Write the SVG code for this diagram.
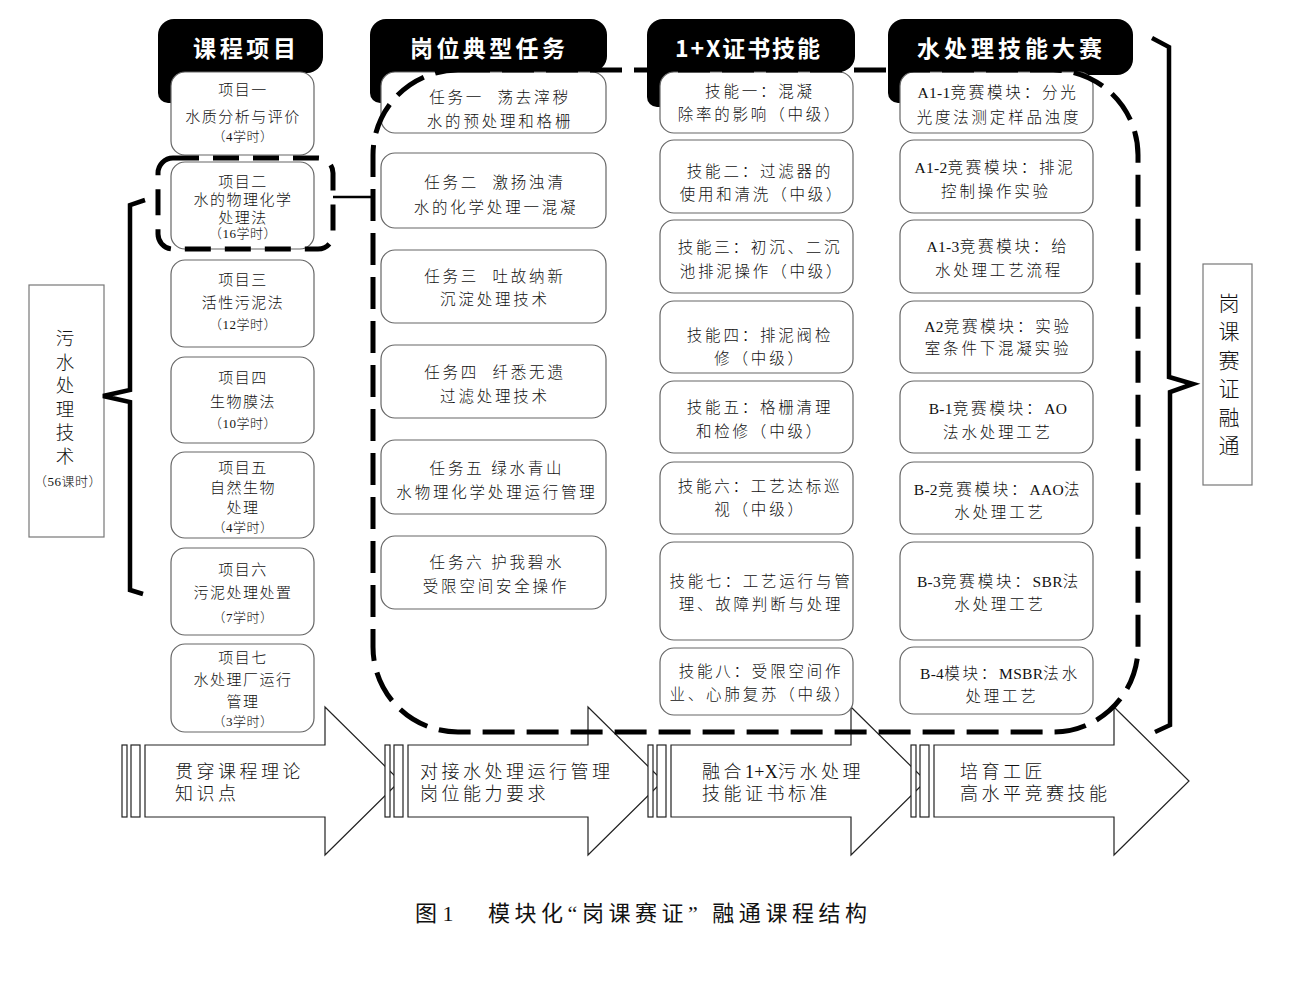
<svg xmlns="http://www.w3.org/2000/svg" width="1300" height="988" viewBox="0 0 1300 988">
<style>
.hdr{fill:#000}
.hdrt{fill:#fff;font-family:"Noto Sans CJK SC",sans-serif;font-size:23px;font-weight:bold}
.box{fill:#fff;stroke:#666;stroke-width:1.2}
.lbl{fill:#fff;stroke:#777;stroke-width:1.2}
.t{font-family:"Liberation Serif","Noto Sans CJK SC",serif;font-size:15px;font-weight:300;text-anchor:middle;fill:#111;letter-spacing:1.5px}
.m{font-size:15.5px;letter-spacing:2.8px}
.s{font-size:13px;letter-spacing:0.5px}
.l{letter-spacing:0.3px;font-weight:normal}
.v{font-family:"Noto Sans CJK SC",sans-serif;font-weight:300;text-anchor:middle;fill:#111}
.a{font-family:"Liberation Serif","Noto Sans CJK SC",serif;font-size:18px;font-weight:300;fill:#111;letter-spacing:3.5px}
.arr{fill:#fff;stroke:#222;stroke-width:1.2}
.dash{fill:none;stroke:#000;stroke-width:5;stroke-dasharray:32 12}
.brk{fill:none;stroke:#000;stroke-width:4.5;stroke-linejoin:miter}
</style>

<!-- bottom arrows -->
<g id="arrows">
  <g id="arrow1">
    <rect class="arr" x="122" y="745" width="5" height="72"/>
    <rect class="arr" x="131" y="745" width="9" height="72"/>
    <path class="arr" d="M145,745 L325,745 L325,707 L400,781 L325,855 L325,817 L145,817 Z"/>
    <text class="a" x="175" y="778">贯穿课程理论</text>
    <text class="a" x="175" y="800">知识点</text>
  </g>
  <g id="arrow2">
    <rect class="arr" x="385" y="745" width="5" height="72"/>
    <rect class="arr" x="394" y="745" width="9" height="72"/>
    <path class="arr" d="M408,745 L588,745 L588,707 L663,781 L588,855 L588,817 L408,817 Z"/>
    <text class="a" x="420" y="778">对接水处理运行管理</text>
    <text class="a" x="420" y="800">岗位能力要求</text>
  </g>
  <g id="arrow3">
    <rect class="arr" x="648" y="745" width="5" height="72"/>
    <rect class="arr" x="657" y="745" width="9" height="72"/>
    <path class="arr" d="M671,745 L851,745 L851,707 L926,781 L851,855 L851,817 L671,817 Z"/>
    <text class="a" x="702" y="778">融合<tspan class="l">1+X</tspan>污水处理</text>
    <text class="a" x="702" y="800">技能证书标准</text>
  </g>
  <g id="arrow4">
    <rect class="arr" x="911" y="745" width="5" height="72"/>
    <rect class="arr" x="920" y="745" width="9" height="72"/>
    <path class="arr" d="M934,745 L1114,745 L1114,707 L1189,781 L1114,855 L1114,817 L934,817 Z"/>
    <text class="a" x="960" y="778">培育工匠</text>
    <text class="a" x="960" y="800">高水平竞赛技能</text>
  </g>
</g>

<!-- headers -->
<g id="header1">
  <rect class="hdr" x="158" y="19" width="165" height="54" rx="16"/>
  <rect class="hdr" x="158" y="40" width="30" height="63" rx="10"/>
  <text class="hdrt" x="193" y="57" textLength="103" lengthAdjust="spacing">课程项目</text>
</g>
<g id="header2">
  <rect class="hdr" x="370" y="19" width="237" height="53" rx="16"/>
  <rect class="hdr" x="370" y="40" width="30" height="63" rx="10"/>
  <text class="hdrt" x="410" y="57" textLength="155" lengthAdjust="spacing">岗位典型任务</text>
</g>
<g id="header3">
  <rect class="hdr" x="647" y="19" width="208" height="53" rx="16"/>
  <rect class="hdr" x="647" y="40" width="30" height="67" rx="10"/>
  <text class="hdrt" x="675" y="57" textLength="145" lengthAdjust="spacing">1+X证书技能</text>
</g>
<g id="header4">
  <rect class="hdr" x="888" y="19" width="245" height="56" rx="16"/>
  <rect class="hdr" x="888" y="40" width="30" height="63" rx="10"/>
  <text class="hdrt" x="917" y="57" textLength="185" lengthAdjust="spacing">水处理技能大赛</text>
</g>

<!-- course projects -->
<g id="p1"><rect class="box" x="171" y="72" width="143" height="83" rx="14"/>
  <text class="t" x="243" y="95">项目一</text><text class="t" x="243" y="122">水质分析与评价</text><text class="t s" x="243" y="141">（4学时）</text></g>
<g id="p2"><rect class="box" x="171" y="162" width="143" height="87" rx="14"/>
  <text class="t" x="243" y="187">项目二</text><text class="t" x="243" y="205">水的物理化学</text><text class="t" x="243" y="223">处理法</text><text class="t s" x="243" y="238">（16学时）</text></g>
<g id="p3"><rect class="box" x="171" y="260" width="143" height="87" rx="14"/>
  <text class="t" x="243" y="285">项目三</text><text class="t" x="243" y="308">活性污泥法</text><text class="t s" x="243" y="329">（12学时）</text></g>
<g id="p4"><rect class="box" x="171" y="357" width="143" height="86" rx="14"/>
  <text class="t" x="243" y="383">项目四</text><text class="t" x="243" y="407">生物膜法</text><text class="t s" x="243" y="428">（10学时）</text></g>
<g id="p5"><rect class="box" x="171" y="452" width="143" height="86" rx="14"/>
  <text class="t" x="243" y="473">项目五</text><text class="t" x="243" y="493">自然生物</text><text class="t" x="243" y="513">处理</text><text class="t s" x="243" y="532">（4学时）</text></g>
<g id="p6"><rect class="box" x="171" y="548" width="143" height="87" rx="14"/>
  <text class="t" x="243" y="575">项目六</text><text class="t" x="243" y="598">污泥处理处置</text><text class="t s" x="243" y="622">（7学时）</text></g>
<g id="p7"><rect class="box" x="171" y="644" width="143" height="88" rx="14"/>
  <text class="t" x="243" y="663">项目七</text><text class="t" x="243" y="685">水处理厂运行</text><text class="t" x="243" y="707">管理</text><text class="t s" x="243" y="726">（3学时）</text></g>

<!-- tasks -->
<g id="t1"><rect class="box" x="381" y="72" width="225" height="61" rx="14"/>
  <text class="t m" x="500" y="103" xml:space="preserve">任务一  荡去滓秽</text><text class="t m" x="500" y="127">水的预处理和格栅</text></g>
<g id="t2"><rect class="box" x="381" y="153" width="225" height="75" rx="14"/>
  <text class="t m" x="495" y="188" xml:space="preserve">任务二  激扬浊清</text><text class="t m" x="496" y="213">水的化学处理一混凝</text></g>
<g id="t3"><rect class="box" x="381" y="250" width="225" height="73" rx="14"/>
  <text class="t m" x="495" y="282" xml:space="preserve">任务三  吐故纳新</text><text class="t m" x="495" y="305">沉淀处理技术</text></g>
<g id="t4"><rect class="box" x="381" y="345" width="225" height="73" rx="14"/>
  <text class="t m" x="495" y="378" xml:space="preserve">任务四  纤悉无遗</text><text class="t m" x="495" y="402">过滤处理技术</text></g>
<g id="t5"><rect class="box" x="381" y="440" width="225" height="74" rx="14"/>
  <text class="t m" x="497" y="474">任务五 绿水青山</text><text class="t m" x="497" y="498">水物理化学处理运行管理</text></g>
<g id="t6"><rect class="box" x="381" y="536" width="225" height="73" rx="14"/>
  <text class="t m" x="497" y="568">任务六 护我碧水</text><text class="t m" x="496" y="592">受限空间安全操作</text></g>

<!-- skills -->
<g id="s1"><rect class="box" x="660" y="72" width="193" height="61" rx="14"/>
  <text class="t m" x="760" y="97">技能一：混凝</text><text class="t m" x="760" y="120">除率的影响（中级）</text></g>
<g id="s2"><rect class="box" x="660" y="140" width="193" height="73" rx="14"/>
  <text class="t m" x="760" y="177">技能二：过滤器的</text><text class="t m" x="762" y="200">使用和清洗（中级）</text></g>
<g id="s3"><rect class="box" x="660" y="220" width="193" height="73" rx="14"/>
  <text class="t m" x="760" y="253">技能三：初沉、二沉</text><text class="t m" x="762" y="277">池排泥操作（中级）</text></g>
<g id="s4"><rect class="box" x="660" y="301" width="193" height="72" rx="14"/>
  <text class="t m" x="760" y="341">技能四：排泥阀检</text><text class="t m" x="760" y="364">修（中级）</text></g>
<g id="s5"><rect class="box" x="660" y="381" width="193" height="72" rx="14"/>
  <text class="t m" x="760" y="413">技能五：格栅清理</text><text class="t m" x="760" y="437">和检修（中级）</text></g>
<g id="s6"><rect class="box" x="660" y="462" width="193" height="72" rx="14"/>
  <text class="t m" x="760" y="492">技能六：工艺达标巡</text><text class="t m" x="760" y="515">视（中级）</text></g>
<g id="s7"><rect class="box" x="660" y="542" width="193" height="98" rx="14"/>
  <text class="t m" x="761" y="587">技能七：工艺运行与管</text><text class="t m" x="761" y="610">理、故障判断与处理</text></g>
<g id="s8"><rect class="box" x="660" y="648" width="193" height="67" rx="14"/>
  <text class="t m" x="761" y="677">技能八：受限空间作</text><text class="t m" x="761" y="700">业、心肺复苏（中级）</text></g>

<!-- competition modules -->
<g id="c1"><rect class="box" x="900" y="72" width="193" height="61" rx="14"/>
  <text class="t m" x="998" y="98"><tspan class="l">A1-1</tspan>竞赛模块：分光</text><text class="t m" x="999" y="123">光度法测定样品浊度</text></g>
<g id="c2"><rect class="box" x="900" y="140" width="193" height="73" rx="14"/>
  <text class="t m" x="995" y="173"><tspan class="l">A1-2</tspan>竞赛模块：排泥</text><text class="t m" x="996" y="197">控制操作实验</text></g>
<g id="c3"><rect class="box" x="900" y="220" width="193" height="73" rx="14"/>
  <text class="t m" x="998" y="252"><tspan class="l">A1-3</tspan>竞赛模块：给</text><text class="t m" x="999" y="276">水处理工艺流程</text></g>
<g id="c4"><rect class="box" x="900" y="301" width="193" height="72" rx="14"/>
  <text class="t m" x="998" y="332"><tspan class="l">A2</tspan>竞赛模块：实验</text><text class="t m" x="998" y="354">室条件下混凝实验</text></g>
<g id="c5"><rect class="box" x="900" y="381" width="193" height="72" rx="14"/>
  <text class="t m" x="998" y="414"><tspan class="l">B-1</tspan>竞赛模块：<tspan class="l">AO</tspan></text><text class="t m" x="998" y="438">法水处理工艺</text></g>
<g id="c6"><rect class="box" x="900" y="462" width="193" height="72" rx="14"/>
  <text class="t m" x="998" y="495"><tspan class="l">B-2</tspan>竞赛模块：<tspan class="l">AAO</tspan>法</text><text class="t m" x="1000" y="518">水处理工艺</text></g>
<g id="c7"><rect class="box" x="900" y="542" width="193" height="98" rx="14"/>
  <text class="t m" x="999" y="587"><tspan class="l">B-3</tspan>竞赛模块：<tspan class="l">SBR</tspan>法</text><text class="t m" x="1000" y="610">水处理工艺</text></g>
<g id="c8"><rect class="box" x="900" y="647" width="193" height="67" rx="14"/>
  <text class="t m" x="1000" y="679"><tspan class="l">B-4</tspan>模块：<tspan class="l">MSBR</tspan>法水</text><text class="t m" x="1002" y="702">处理工艺</text></g>

<!-- side labels -->
<g id="leftLabel">
  <rect class="lbl" x="29" y="285" width="75" height="252"/>
  <text class="v" font-size="18.5" x="65" y="345"><tspan x="65">污</tspan><tspan x="65" dy="23.5">水</tspan><tspan x="65" dy="23.5">处</tspan><tspan x="65" dy="23.5">理</tspan><tspan x="65" dy="23.5">技</tspan><tspan x="65" dy="23.5">术</tspan></text>
  <text class="t s" x="68" y="486">（56课时）</text>
</g>
<g id="rightLabel">
  <rect class="lbl" x="1203" y="264" width="49" height="221"/>
  <text class="v" font-size="21" x="1229" y="311"><tspan x="1229">岗</tspan><tspan x="1229" dy="28.4">课</tspan><tspan x="1229" dy="28.4">赛</tspan><tspan x="1229" dy="28.4">证</tspan><tspan x="1229" dy="28.4">融</tspan><tspan x="1229" dy="28.4">通</tspan></text>
</g>

<!-- connectors -->
<g id="connectors">
  <rect class="dash" x="373" y="70" width="765" height="662" rx="85"/>
  <rect class="dash" x="158" y="158" width="175" height="91" rx="15" style="stroke-dasharray:26 14"/>
  <line x1="333" y1="197" x2="373" y2="197" stroke="#000" stroke-width="2.5"/>
  <path class="brk" d="M145,200 L130,205 L130,390 L103,396 L130,402 L130,590 L143,594"/>
  <path class="brk" d="M1152,38 L1169,47 L1169,377 L1193,384 L1170,392 L1170,725 L1155,732"/>
</g>

<!-- caption -->
<g id="caption">
  <text x="415" y="921" font-family="Liberation Serif, Noto Sans CJK SC, serif" font-size="22" fill="#111">图 1</text>
  <text x="488" y="921" font-family="Liberation Serif, Noto Sans CJK SC, serif" font-size="22" fill="#111" textLength="379" lengthAdjust="spacing">模块化“岗课赛证” 融通课程结构</text>
</g>
</svg>
